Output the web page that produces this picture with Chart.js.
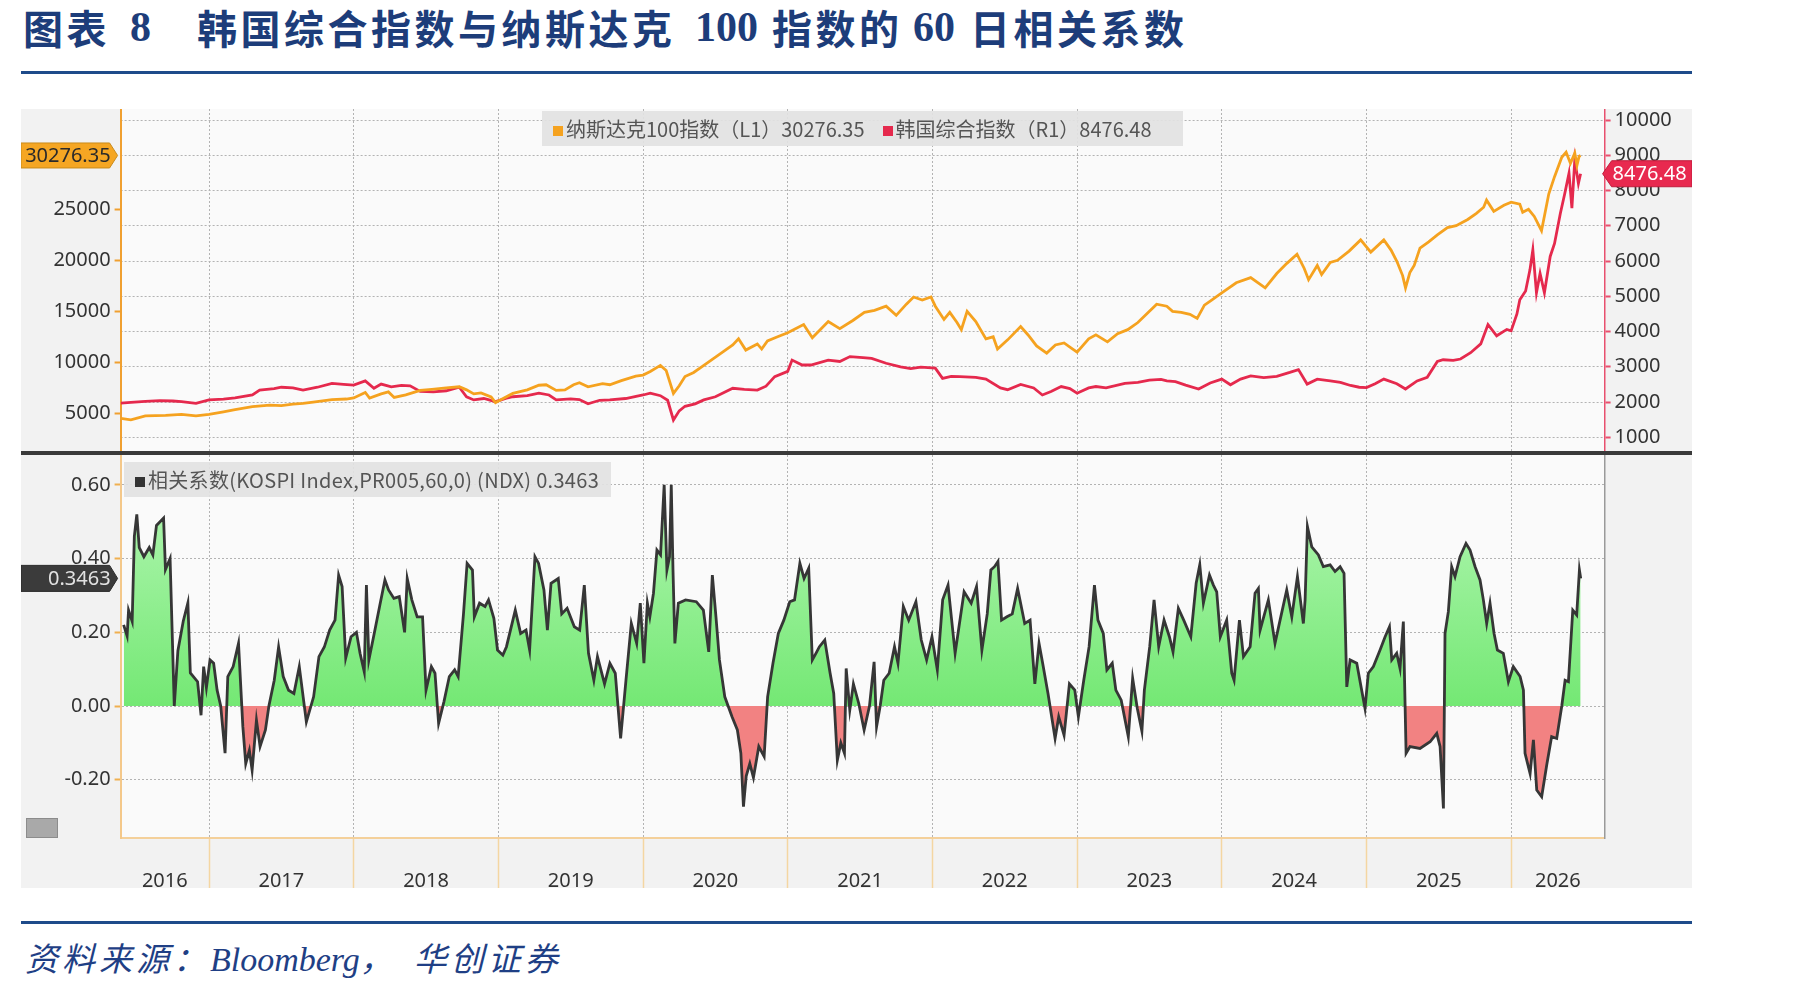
<!DOCTYPE html>
<html lang="zh-CN">
<head>
<meta charset="utf-8">
<title>韩国综合指数与纳斯达克100指数的60日相关系数</title>
<script src="https://cdn.jsdelivr.net/npm/chart.js@4.4.1/dist/chart.umd.min.js"></script>
<style>
  html, body { margin: 0; padding: 0; background: #fff; }
  #page { position: relative; width: 1801px; height: 991px; overflow: hidden; }
  .t { position: absolute; top: 5px; line-height: 44px; color: #1d3d7a; white-space: pre; }
  .cjk { font-family: "Noto Sans CJK SC"; font-weight: 700; font-size: 40px; letter-spacing: 3.5px; }
  .num { font-family: "Liberation Serif"; font-weight: 700; font-size: 42px; }
  .rule { position: absolute; left: 21px; width: 1671px; height: 3px; background: #1e4b8a; }
  #frame { position: absolute; left: 21px; top: 109px; width: 1671px; height: 779px; background: #f2f2f2; }
  #frame canvas { position: absolute; left: 0; }
  #sep { position: absolute; left: 0; top: 342px; width: 1671px; height: 4px; background: #3a3a3a; }
  .legend { position: absolute; height: 35px; line-height: 35px; background: rgba(226,226,226,0.92);
            font-family: "Noto Sans CJK SC"; font-size: 20px; color: #555; white-space: pre;
            padding-left: 11px; box-sizing: border-box; }
  .sq { display: inline-block; width: 10px; height: 10px; margin-right: 3px; vertical-align: 1px; }
  #icon { position: absolute; left: 5px; top: 709px; width: 32px; height: 20px; background: #a9a9a9; border: 1px solid #8c8c8c; box-sizing: border-box; }
  #source { position: absolute; left: 25px; top: 936px; line-height: 42px; color: #1f3f85; white-space: pre; font-style: italic; }
  #source .c { font-family: "Noto Sans CJK SC"; font-size: 33px; letter-spacing: 4px; }
  #source .l { font-family: "Liberation Serif"; font-size: 34px; }
</style>
</head>
<body>
<div id="page">
  <span class="t cjk" style="left:23px">图表</span>
  <span class="t num" style="left:130px">8</span>
  <span class="t cjk" style="left:197px">韩国综合指数与纳斯达克</span>
  <span class="t num" style="left:695px">100</span>
  <span class="t cjk" style="left:772px">指数的</span>
  <span class="t num" style="left:913px">60</span>
  <span class="t cjk" style="left:970px">日相关系数</span>
  <div class="rule" style="top:71px"></div>

  <div id="frame">
    <canvas id="topChart" width="1671" height="342" style="top:0"></canvas>
    <div id="sep"></div>
    <canvas id="corrChart" width="1671" height="433" style="top:346px"></canvas>
    <div class="legend" id="legTop" style="left:521px; top:2px; width:641px;"></div>
    <div class="legend" id="legCorr" style="left:103px; top:353px; width:487px; letter-spacing:0.3px;"></div>
    <div id="icon"></div>
  </div>

  <div class="rule" style="top:921px"></div>
  <div id="source"><span class="c">资料来源：</span><span class="l">Bloomberg</span><span class="c">，</span><span class="c" style="margin-left:17px">华创证券</span></div>
</div>

<script>
// 纳斯达克100指数 (L1)，日期为小数年份
const ndxDates = [
  2016.39, 2016.46, 2016.56, 2016.70, 2016.81, 2016.91, 2017.00, 2017.10, 2017.18, 2017.30,
  2017.42, 2017.50, 2017.58, 2017.65, 2017.72, 2017.85, 2017.95, 2018.00, 2018.08, 2018.11,
  2018.19, 2018.24, 2018.28, 2018.36, 2018.46, 2018.54, 2018.64, 2018.73, 2018.78, 2018.83,
  2018.88, 2018.95, 2018.98, 2019.02, 2019.10, 2019.20, 2019.28, 2019.33, 2019.40, 2019.46,
  2019.52, 2019.56, 2019.62, 2019.72, 2019.77, 2019.85, 2019.95, 2020.00, 2020.05, 2020.12,
  2020.16, 2020.21, 2020.25, 2020.29, 2020.35, 2020.42, 2020.54, 2020.62, 2020.66, 2020.71,
  2020.79, 2020.82, 2020.86, 2020.93, 2021.00, 2021.11, 2021.17, 2021.28, 2021.36, 2021.45,
  2021.53, 2021.60, 2021.68, 2021.75, 2021.82, 2021.87, 2021.93, 2021.99, 2022.02, 2022.08,
  2022.12, 2022.17, 2022.20, 2022.24, 2022.30, 2022.37, 2022.42, 2022.45, 2022.52, 2022.61,
  2022.66, 2022.72, 2022.79, 2022.85, 2022.91, 2022.96, 2023.00, 2023.08, 2023.13, 2023.21,
  2023.28, 2023.35, 2023.42, 2023.50, 2023.55, 2023.62, 2023.66, 2023.72, 2023.78, 2023.83,
  2023.88, 2023.93, 2024.00, 2024.10, 2024.20, 2024.30, 2024.38, 2024.45, 2024.52, 2024.57,
  2024.60, 2024.66, 2024.69, 2024.75, 2024.80, 2024.88, 2024.96, 2025.03, 2025.12, 2025.17,
  2025.21, 2025.25, 2025.27, 2025.30, 2025.33, 2025.37, 2025.43, 2025.49, 2025.56, 2025.62,
  2025.70, 2025.76, 2025.81, 2025.83, 2025.88, 2025.95, 2026.00, 2026.06, 2026.08, 2026.12,
  2026.16, 2026.21, 2026.26, 2026.30, 2026.35, 2026.38, 2026.41, 2026.44, 2026.455, 2026.47,
  2026.48
];
const ndxValues = [
  4500, 4350, 4750, 4800, 4900, 4750, 4900, 5150, 5350, 5650,
  5800, 5750, 5900, 5980, 6100, 6350, 6400, 6500, 7050, 6500,
  6900, 7100, 6550, 6800, 7250, 7350, 7500, 7600, 7300, 6900,
  7000, 6600, 6050, 6350, 6950, 7300, 7750, 7800, 7250, 7300,
  7800, 8000, 7600, 7900, 7800, 8200, 8650, 8750, 9100, 9700,
  9200, 6950, 7700, 8600, 9000, 9700, 10900, 11700, 12300, 11200,
  11800, 11300, 12100, 12500, 12900, 13700, 12400, 14000, 13300, 14100,
  14900, 15100, 15500, 14600, 15700, 16400, 16100, 16400, 15500, 14200,
  14900, 13900, 13200, 15000, 14000, 12300, 12500, 11300, 12200, 13500,
  12700, 11600, 10900, 11700, 11900, 11400, 11000, 12300, 12700, 12000,
  12800, 13200, 13900, 15000, 15700, 15500, 15000, 14900, 14700, 14300,
  15600, 16100, 16800, 17800, 18300, 17300, 18700, 19700, 20600, 19200,
  18100, 19500, 18600, 19800, 20000, 20900, 22000, 20800, 22000, 21000,
  19900, 18500, 17300, 18800, 19500, 21200, 21800, 22500, 23200, 23400,
  24000, 24600, 25200, 25900, 24800, 25400, 25700, 25500, 24700, 25000,
  24300, 22900, 26500, 28200, 30100, 30600, 29500, 30500, 29300, 30200,
  30276.35
];

// 韩国综合指数 (R1)
const kospiDates = [
  2016.39, 2016.46, 2016.56, 2016.66, 2016.75, 2016.81, 2016.91, 2017.00, 2017.10, 2017.18,
  2017.30, 2017.35, 2017.45, 2017.50, 2017.58, 2017.65, 2017.75, 2017.85, 2017.93, 2018.00,
  2018.08, 2018.14, 2018.19, 2018.26, 2018.33, 2018.39, 2018.46, 2018.55, 2018.64, 2018.73,
  2018.78, 2018.83, 2018.90, 2018.98, 2019.05, 2019.10, 2019.20, 2019.28, 2019.35, 2019.40,
  2019.50, 2019.56, 2019.62, 2019.70, 2019.77, 2019.88, 2020.00, 2020.05, 2020.12, 2020.17,
  2020.21, 2020.25, 2020.29, 2020.36, 2020.42, 2020.50, 2020.62, 2020.70, 2020.79, 2020.85,
  2020.91, 2021.00, 2021.03, 2021.10, 2021.16, 2021.28, 2021.36, 2021.43, 2021.52, 2021.58,
  2021.68, 2021.78, 2021.85, 2021.92, 2022.02, 2022.07, 2022.13, 2022.19, 2022.30, 2022.37,
  2022.47, 2022.52, 2022.61, 2022.70, 2022.76, 2022.82, 2022.89, 2022.95, 2023.00, 2023.08,
  2023.13, 2023.20, 2023.33, 2023.42, 2023.50, 2023.58, 2023.62, 2023.68, 2023.75, 2023.84,
  2023.92, 2024.00, 2024.06, 2024.13, 2024.20, 2024.29, 2024.38, 2024.47, 2024.53, 2024.59,
  2024.66, 2024.75, 2024.82, 2024.89, 2024.95, 2025.00, 2025.06, 2025.12, 2025.21, 2025.27,
  2025.35, 2025.42, 2025.49, 2025.53, 2025.60, 2025.65, 2025.72, 2025.79, 2025.84, 2025.90,
  2025.97, 2026.00, 2026.04, 2026.06, 2026.10, 2026.13, 2026.15, 2026.175, 2026.20, 2026.23,
  2026.27, 2026.30, 2026.34, 2026.37, 2026.40, 2026.42, 2026.44, 2026.465, 2026.48
];
const kospiValues = [
  1970, 1990, 2020, 2040, 2030, 2010, 1960, 2060, 2080, 2120,
  2200, 2340, 2380, 2420, 2400, 2340, 2420, 2530, 2500, 2480,
  2600, 2390, 2510, 2430, 2470, 2460, 2300, 2290, 2320, 2420,
  2150, 2060, 2100, 2010, 2100, 2150, 2180, 2250, 2200, 2060,
  2090, 2070, 1950, 2050, 2060, 2100, 2200, 2250, 2180, 2050,
  1490, 1750, 1880, 1950, 2060, 2150, 2390, 2360, 2340, 2450,
  2720, 2870, 3190, 3050, 3050, 3190, 3150, 3290, 3260, 3240,
  3100, 3000, 2950, 2990, 2960, 2670, 2730, 2720, 2700, 2650,
  2400, 2350, 2500, 2400, 2200, 2300, 2440, 2380, 2250, 2400,
  2440, 2400, 2530, 2560, 2620, 2640, 2600, 2580, 2480, 2370,
  2540, 2650, 2490, 2650, 2740, 2690, 2730, 2840, 2920, 2510,
  2650, 2600, 2560, 2470, 2420, 2410, 2520, 2650, 2520, 2370,
  2600, 2700, 3150, 3200, 3180, 3220, 3400, 3650, 4200, 3880,
  4060, 4020, 4500, 4900, 5150, 5750, 6320, 5100, 5650, 5100,
  6130, 6500, 7350, 7900, 8490, 7500, 8870, 8200, 8476.48
];

// 相关系数(KOSPI Index,PR005,60,0) (NDX)
const corrDates = [
  2016.410, 2016.434, 2016.444, 2016.469, 2016.484, 2016.501, 2016.518, 2016.550, 2016.587, 2016.612,
  2016.637, 2016.686, 2016.699, 2016.731, 2016.760, 2016.785, 2016.822, 2016.854, 2016.871, 2016.921,
  2016.945, 2016.963, 2016.982, 2017.007, 2017.032, 2017.056, 2017.081, 2017.111, 2017.130, 2017.167,
  2017.204, 2017.234, 2017.254, 2017.279, 2017.298, 2017.328, 2017.353, 2017.390, 2017.414, 2017.451,
  2017.481, 2017.513, 2017.550, 2017.587, 2017.624, 2017.673, 2017.723, 2017.760, 2017.797, 2017.834,
  2017.871, 2017.896, 2017.920, 2017.945, 2017.982, 2018.019, 2018.044, 2018.073, 2018.088, 2018.105,
  2018.142, 2018.179, 2018.216, 2018.241, 2018.278, 2018.315, 2018.352, 2018.370, 2018.402, 2018.439,
  2018.476, 2018.500, 2018.537, 2018.562, 2018.587, 2018.624, 2018.661, 2018.698, 2018.722, 2018.759,
  2018.784, 2018.821, 2018.834, 2018.870, 2018.908, 2018.932, 2018.969, 2018.994, 2019.031, 2019.056,
  2019.117, 2019.154, 2019.191, 2019.216, 2019.253, 2019.278, 2019.315, 2019.339, 2019.364, 2019.414,
  2019.438, 2019.475, 2019.525, 2019.562, 2019.594, 2019.623, 2019.660, 2019.685, 2019.734, 2019.771,
  2019.808, 2019.845, 2019.882, 2019.919, 2019.956, 2019.981, 2020.006, 2020.030,
  2020.047, 2020.072, 2020.096, 2020.121, 2020.146, 2020.165, 2020.183, 2020.195, 2020.207, 2020.220,
  2020.244, 2020.294, 2020.368, 2020.417, 2020.454, 2020.479, 2020.504, 2020.528, 2020.565, 2020.615,
  2020.652, 2020.676, 2020.694, 2020.713, 2020.738, 2020.763, 2020.800, 2020.837, 2020.861, 2020.898,
  2020.935, 2020.973, 2021.014, 2021.047, 2021.084, 2021.113, 2021.145, 2021.170, 2021.195, 2021.219,
  2021.256, 2021.293, 2021.318, 2021.343, 2021.367, 2021.392, 2021.404, 2021.429, 2021.454, 2021.491,
  2021.528, 2021.565, 2021.597, 2021.614, 2021.639, 2021.664, 2021.701, 2021.738, 2021.762, 2021.799,
  2021.836, 2021.886, 2021.923, 2021.960, 2021.997, 2022.034, 2022.071, 2022.108, 2022.157, 2022.219,
  2022.268, 2022.305, 2022.342, 2022.379, 2022.404, 2022.429, 2022.453, 2022.478, 2022.515, 2022.552,
  2022.589, 2022.638, 2022.675, 2022.708, 2022.737, 2022.762, 2022.799, 2022.848, 2022.873, 2022.910,
  2022.947, 2022.984, 2023.009, 2023.046, 2023.083, 2023.120, 2023.144, 2023.181, 2023.206, 2023.243,
  2023.268, 2023.305, 2023.354, 2023.384, 2023.416, 2023.448, 2023.465, 2023.502, 2023.532, 2023.564,
  2023.601, 2023.638, 2023.663, 2023.700, 2023.737, 2023.786, 2023.823, 2023.848, 2023.873,
  2023.915, 2023.942, 2023.965, 2023.990, 2024.034, 2024.069, 2024.085, 2024.122, 2024.150, 2024.196,
  2024.230, 2024.253, 2024.265, 2024.322, 2024.368, 2024.403, 2024.449, 2024.484, 2024.523, 2024.564,
  2024.576, 2024.592, 2024.622, 2024.668, 2024.702, 2024.749, 2024.783, 2024.818, 2024.845, 2024.864,
  2024.887, 2024.933, 2024.967, 2024.990, 2025.013, 2025.048, 2025.094, 2025.129, 2025.159, 2025.175,
  2025.209, 2025.232, 2025.255, 2025.274, 2025.301, 2025.370, 2025.440, 2025.486, 2025.509, 2025.532,
  2025.543, 2025.566, 2025.589, 2025.612, 2025.647, 2025.688, 2025.716, 2025.751, 2025.785, 2025.808,
  2025.831, 2025.854, 2025.882, 2025.905, 2025.946, 2025.981, 2026.015, 2026.062, 2026.085, 2026.096,
  2026.131, 2026.154, 2026.177, 2026.211, 2026.246, 2026.280, 2026.315, 2026.350, 2026.373, 2026.396,
  2026.426, 2026.453, 2026.472, 2026.481
];
const corrValues = [
  0.22, 0.19, 0.26, 0.23, 0.46, 0.52, 0.43, 0.405, 0.43, 0.41,
  0.49, 0.51, 0.37, 0.40, 0.00, 0.15, 0.23, 0.28, 0.09, 0.066,
  -0.025, 0.107, 0.05, 0.125, 0.116, 0.043, 0.0, -0.128, 0.08, 0.107,
  0.17, -0.056, -0.156, -0.12, -0.174, -0.038, -0.11, -0.065, 0.0, 0.07,
  0.16, 0.08, 0.043, 0.034, 0.107, -0.043, 0.025, 0.134, 0.16, 0.206,
  0.233, 0.355, 0.324, 0.13, 0.188, 0.20, 0.143, 0.093, 0.328, 0.125,
  0.197, 0.27, 0.342, 0.315, 0.292, 0.297, 0.20, 0.346, 0.288, 0.242,
  0.242, 0.043, 0.107, 0.089, -0.047, 0.012, 0.08, 0.098, 0.08, 0.25,
  0.387, 0.369, 0.242, 0.279, 0.27, 0.288, 0.238, 0.152, 0.138, 0.161,
  0.26, 0.197, 0.206, 0.152, 0.405, 0.387, 0.315, 0.206, 0.333, 0.346,
  0.25, 0.265, 0.215, 0.206, 0.328, 0.143, 0.07, 0.134, 0.06, 0.116,
  0.089, -0.088, 0.07, 0.224, 0.17, 0.279, 0.116, 0.279,
  0.242, 0.306, 0.423, 0.41, 0.60, 0.369, 0.405, 0.60, 0.369, 0.17,
  0.279, 0.288, 0.283, 0.26, 0.147, 0.355, 0.242, 0.125, 0.025, -0.029,
  -0.065, -0.128, -0.273, -0.19, -0.156, -0.194, -0.11, -0.137, 0.025, 0.116,
  0.197, 0.233, 0.283, 0.288, 0.387, 0.346, 0.374, 0.125, 0.143, 0.161,
  0.179, 0.089, 0.034, -0.147, -0.10, -0.128, 0.102, -0.011, 0.06, 0.007,
  -0.065, 0.0, 0.12, -0.056, 0.0, 0.07, 0.089, 0.161, 0.116, 0.27,
  0.233, 0.283, 0.179, 0.125, 0.188, 0.098, 0.288, 0.328, 0.143, 0.31,
  0.279, 0.324, 0.152, 0.25, 0.369, 0.378, 0.392, 0.233, 0.242, 0.25,
  0.319, 0.224, 0.233, 0.06, 0.17, 0.116, 0.034, -0.088, -0.029, -0.079,
  0.06, 0.043, -0.029, 0.07, 0.161, 0.328, 0.233, 0.197, 0.098, 0.116,
  0.043, 0.016, -0.083, 0.075, -0.006, -0.068, 0.043, 0.161, 0.288, 0.161,
  0.233, 0.188, 0.147, 0.265, 0.233, 0.188, 0.333, 0.383, 0.279,
  0.355, 0.328, 0.31, 0.188, 0.233, 0.089, 0.07, 0.233, 0.134, 0.161,
  0.306, 0.319, 0.206, 0.288, 0.17, 0.233, 0.315, 0.242, 0.351, 0.224,
  0.288, 0.487, 0.432, 0.41, 0.378, 0.383, 0.365, 0.378, 0.36, 0.052,
  0.125, 0.116, 0.043, -0.006, 0.089, 0.107, 0.152, 0.188, 0.215, 0.125,
  0.143, 0.102, 0.229, -0.128, -0.11, -0.115, -0.097, -0.074, -0.11, -0.278,
  0.197, 0.256, 0.378, 0.351, 0.405, 0.441, 0.423, 0.378, 0.342, 0.288,
  0.224, 0.279, 0.197, 0.152, 0.143, 0.066, 0.107, 0.08, 0.043, -0.128,
  -0.183, -0.092, -0.228, -0.246, -0.16, -0.083, -0.088, 0.0, 0.07, 0.066,
  0.26, 0.247, 0.369, 0.3463
];

const yearLabels = ['2016', '2017', '2018', '2019', '2020', '2021', '2022', '2023', '2024', '2025', '2026'];
const ndxTicks = [5000, 10000, 15000, 20000, 25000];
const kospiTicks = [1000, 2000, 3000, 4000, 5000, 6000, 7000, 8000, 9000, 10000];
const corrTicks = [-0.2, 0, 0.2, 0.4, 0.6];
const xMin = 2016.389;
const xMax = 2026.646;

const ndxLast = ndxValues[ndxValues.length - 1];
const kospiLast = kospiValues[kospiValues.length - 1];
const corrLast = corrValues[corrValues.length - 1];

const toPoints = (dates, values) => dates.map((d, i) => ({ x: d, y: values[i] }));
const fixTicks = list => s => { s.ticks = list.map(v => ({ value: v })); };
// 不让刻度标签撑出额外的边距
const fitY = w => s => { s.width = w; s.paddingTop = 0; s.paddingBottom = 0; };
const fitX = h => s => { s.height = h; s.paddingLeft = 0; s.paddingRight = 0; };

document.getElementById('legTop').innerHTML =
  '<span class="sq" style="background:#f5a21f"></span>纳斯达克100指数（L1）' + ndxLast.toFixed(2) +
  '<span class="sq" style="background:#e5294d; margin-left:18px"></span>韩国综合指数（R1）' + kospiLast.toFixed(2);
document.getElementById('legCorr').innerHTML =
  '<span class="sq" style="background:#333"></span>相关系数(KOSPI Index,PR005,60,0) (NDX) ' + corrLast.toFixed(4);

const gridGrey = '#b3b3b3';
const tickFont = { family: 'Noto Sans', size: 20 };
const yearTicks = yearLabels.slice(1).map(Number);

const plotBg = {
  id: 'plotBg',
  beforeDraw(chart) {
    const a = chart.chartArea, c = chart.ctx;
    c.save();
    c.fillStyle = '#fafafa';
    c.fillRect(a.left, a.top, a.right - a.left, a.bottom - a.top);
    c.restore();
  }
};

// 数值标签（带箭头的小框）
function drawTag(ctx, x0, x1, tipX, y, h, fill, stroke, text, textColor) {
  ctx.save();
  ctx.beginPath();
  if (tipX > x1) {
    ctx.moveTo(x0, y - h / 2); ctx.lineTo(x1, y - h / 2); ctx.lineTo(tipX, y);
    ctx.lineTo(x1, y + h / 2); ctx.lineTo(x0, y + h / 2);
  } else {
    ctx.moveTo(tipX, y); ctx.lineTo(x0, y - h / 2); ctx.lineTo(x1, y - h / 2);
    ctx.lineTo(x1, y + h / 2); ctx.lineTo(x0, y + h / 2);
  }
  ctx.closePath();
  ctx.fillStyle = fill;
  ctx.fill();
  ctx.strokeStyle = stroke;
  ctx.lineWidth = 1;
  ctx.stroke();
  ctx.fillStyle = textColor;
  ctx.font = '20px "Noto Sans"';
  ctx.textBaseline = 'middle';
  if (tipX > x1) {
    ctx.textAlign = 'right';
    ctx.fillText(text, x1 + 1, y + 1);
  } else {
    ctx.textAlign = 'left';
    ctx.fillText(text, x0 + 1, y + 1);
  }
  ctx.restore();
}

const topTags = {
  id: 'topTags',
  afterDraw(chart) {
    const yL = chart.scales.yL, yR = chart.scales.yR;
    const tipL = yL.right - 3;
    drawTag(chart.ctx, 0, tipL - 8, tipL, yL.getPixelForValue(ndxLast), 25,
      '#f5a623', '#c98a1a', ndxLast.toFixed(2), '#2a2a2a');
    const tipR = yR.left - 2;
    drawTag(chart.ctx, tipR + 9, chart.width, tipR, yR.getPixelForValue(kospiLast), 26,
      '#e8294f', '#c01c3c', kospiLast.toFixed(2), '#ffffff');
  }
};

const corrTags = {
  id: 'corrTags',
  afterDraw(chart) {
    const y = chart.scales.y;
    const tip = y.right - 3;
    drawTag(chart.ctx, 0, tip - 8, tip, y.getPixelForValue(corrLast), 26,
      '#3b3b3b', '#2a2a2a', corrLast.toFixed(4), '#e2e2e2');
  }
};

const topChart = new Chart(document.getElementById('topChart'), {
  type: 'line',
  data: {
    datasets: [
      { label: '纳斯达克100指数 (L1)', data: toPoints(ndxDates, ndxValues), yAxisID: 'yL',
        borderColor: '#f5a21f', borderWidth: 2.8, pointRadius: 0, tension: 0 },
      { label: '韩国综合指数 (R1)', data: toPoints(kospiDates, kospiValues), yAxisID: 'yR',
        borderColor: '#e5294d', borderWidth: 2.8, pointRadius: 0, tension: 0 }
    ]
  },
  options: {
    responsive: false,
    animation: false,
    devicePixelRatio: 1,
    layout: { padding: 0, autoPadding: false },
    plugins: { legend: { display: false }, tooltip: { enabled: false } },
    scales: {
      x: {
        type: 'linear', min: xMin, max: xMax,
        afterBuildTicks: fixTicks(yearTicks),
        afterFit: fitX(0),
        ticks: { display: false },
        grid: { color: gridGrey, lineWidth: 1, drawTicks: false },
        border: { display: false, dash: [2, 2] }
      },
      yL: {
        position: 'left', min: 1304, max: 34833,
        afterBuildTicks: fixTicks(ndxTicks),
        afterFit: fitY(99.6),
        ticks: { font: tickFont, color: '#333', padding: 4, callback: v => String(v) },
        grid: { drawOnChartArea: false, tickColor: '#f0a030', tickLength: 6, tickWidth: 2 },
        border: { color: '#f0a030', width: 2 }
      },
      yR: {
        position: 'right', min: 611, max: 10313,
        afterBuildTicks: fixTicks(kospiTicks),
        afterFit: fitY(87.4),
        ticks: { font: tickFont, color: '#333', padding: 4, callback: v => String(v) },
        grid: { drawOnChartArea: true, color: gridGrey, lineWidth: 1, tickColor: '#e8506e', tickLength: 6, tickWidth: 2 },
        border: { color: '#e8506e', width: 1.5, dash: [2, 2] }
      }
    }
  },
  plugins: [plotBg, topTags]
});

const isYear = v => Math.abs(v - Math.round(v)) < 1e-6;

const corrChart = new Chart(document.getElementById('corrChart'), {
  type: 'line',
  data: {
    datasets: [
      { label: '相关系数(KOSPI Index,PR005,60,0) (NDX)', data: toPoints(corrDates, corrValues),
        borderColor: '#363636', borderWidth: 2.8, pointRadius: 0, tension: 0,
        fill: { target: { value: 0 }, above: '#8ef08e', below: '#f28282' } }
    ]
  },
  options: {
    responsive: false,
    animation: false,
    devicePixelRatio: 1,
    layout: { padding: 0, autoPadding: false },
    plugins: { legend: { display: false }, tooltip: { enabled: false } },
    scales: {
      x: {
        type: 'linear', min: xMin, max: xMax, z: 1,
        afterBuildTicks: s => {
          const centers = yearLabels.map(Number).map(y => (Math.max(y, xMin) + Math.min(y + 1, xMax)) / 2);
          s.ticks = yearTicks.concat(centers).sort((a, b) => a - b).map(v => ({ value: v }));
        },
        afterFit: fitX(50),
        ticks: { autoSkip: false, maxRotation: 0, font: tickFont, color: '#333', padding: -19,
                 callback: v => (isYear(v) ? '' : String(Math.floor(v))) },
        grid: {
          lineWidth: 1, tickLength: 50, tickWidth: 1.5,
          color: c => (c.tick && isYear(c.tick.value) ? gridGrey : 'rgba(0,0,0,0)'),
          tickColor: c => (c.tick && isYear(c.tick.value) ? '#f4d6a2' : 'rgba(0,0,0,0)')
        },
        border: { color: '#f4d09a', width: 2, dash: [2, 2] }
      },
      y: {
        position: 'left', min: -0.358, max: 0.681, z: 1,
        afterBuildTicks: fixTicks(corrTicks),
        afterFit: fitY(99.6),
        ticks: { font: tickFont, color: '#333', padding: 4, callback: v => Number(v).toFixed(2) },
        grid: { drawOnChartArea: true, color: gridGrey, lineWidth: 1, tickColor: '#f0b050', tickLength: 6, tickWidth: 2 },
        border: { color: '#f4c88a', width: 2, dash: [2, 2] }
      },
      y2: {
        position: 'right', display: true,
        afterFit: fitY(87.4),
        ticks: { display: false },
        grid: { display: false },
        border: { color: '#9a9a9a', width: 1.5 }
      }
    }
  },
  plugins: [plotBg, corrTags]
});

// 正相关区域使用由上到下的渐变绿色
const yS = corrChart.scales.y;
const grad = corrChart.ctx.createLinearGradient(0, yS.getPixelForValue(0.6), 0, yS.getPixelForValue(0));
grad.addColorStop(0, '#b2f6b2');
grad.addColorStop(1, '#74e874');
corrChart.data.datasets[0].fill.above = grad;
corrChart.update('none');
</script>
</body>
</html>
